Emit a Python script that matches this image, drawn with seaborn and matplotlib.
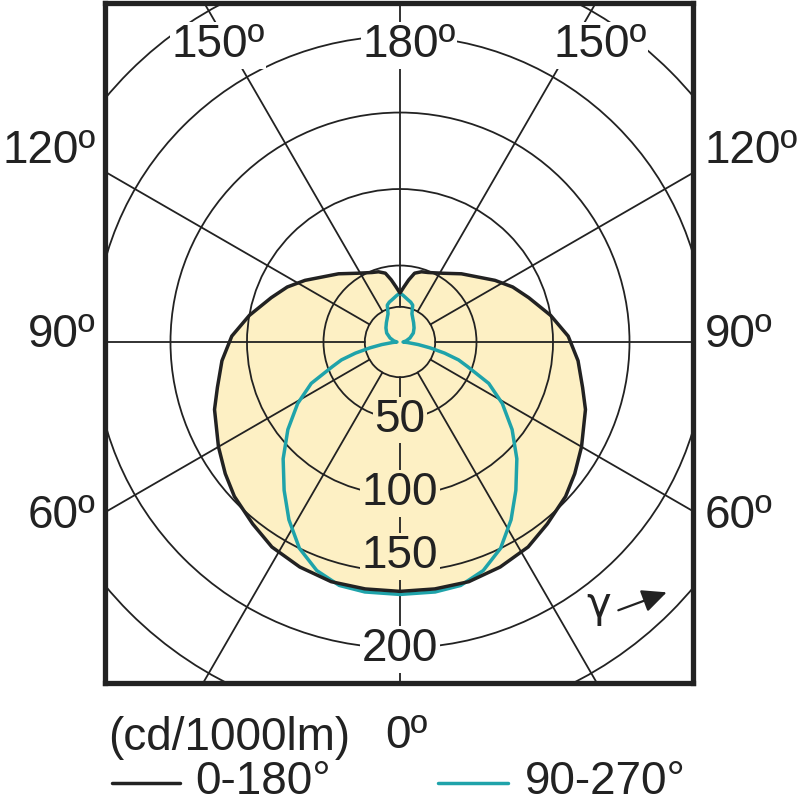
"""
Polar luminous intensity diagram (cd/1000lm), two C-planes.
"""

import numpy as np
import seaborn as sns
import matplotlib.pyplot as plt
from matplotlib.patches import Circle
from matplotlib.lines import Line2D

# C0-180 plane (black, filled) - gamma in degrees, 0 = straight down
black_gamma = [0, 8, 16, 24, 32, 39, 47, 53, 60, 70, 76, 84, 92, 100, 109, 116, 123,
               138, 148, 158, 163, 168, 172, 176, 180]
black_cd = [163, 163, 163, 161, 158, 153, 148, 143, 137, 129, 123, 117, 110, 100, 89, 82, 74,
            60, 53, 49, 48, 46, 41, 36, 32]

# C90-270 plane (teal)
teal_gamma = [0, 8, 14, 20, 26, 32, 38, 45, 52, 59, 65, 70, 73, 76, 79, 82, 86, 90,
              100, 112, 124, 135, 145, 150, 157, 161, 165, 169, 176, 180]
teal_cd = [165, 165, 164, 159, 150, 137, 123, 108, 93, 78, 64, 47, 40, 30, 20, 12, 5, 2,
           4, 7, 10.5, 13, 15.5, 17, 20, 25.5, 27, 28, 30.5, 32]

ring_values = [23, 50, 100, 150, 200, 250]
ring_labels = ['50', '100', '150', '200']
ring_label_pos = [-51, -99, -140, -201]
spoke_angles = list(range(0, 360, 30))

angle_top_labels = ['150º', '180º', '150º']
angle_top_x = [-119, 6, 131]
angle_side_labels = ['120º', '90º', '60º']
angle_side_y = [125, 4.6, -114]

FILL = '#fdf0c4'
TEAL = '#1fa3aa'
INK = '#222222'


def to_xy(gamma, cd):
    """Mirror a half-plane curve to both sides; gamma 0 points down."""
    g = np.radians(np.asarray(gamma, dtype=float))
    r = np.asarray(cd, dtype=float)
    x_right = r * np.sin(g)
    y_right = -r * np.cos(g)
    x = np.concatenate([x_right, -x_right[::-1]])
    y = np.concatenate([y_right, y_right[::-1]])
    return x, y


sns.set_style('white')
plt.rcParams['font.family'] = ['Liberation Sans', 'DejaVu Sans']

fig = plt.figure(figsize=(8, 8.1), dpi=100)
ax = fig.add_axes([105 / 800, 1 - 683 / 810, 588 / 800, 680 / 810])
ax.set_xlim(-192.8, 191.5)
ax.set_ylim(-222.9, 221.6)
ax.set_xticks([])
ax.set_yticks([])
for sp in ax.spines.values():
    sp.set_linewidth(3.8)
    sp.set_color(INK)
    sp.set_zorder(10)

# filled C0-180 distribution
bx, by = to_xy(black_gamma, black_cd)
ax.fill(bx, by, color=FILL, zorder=1, lw=0)

# grid: rings and spokes
for r in ring_values:
    ax.add_patch(Circle((0, 0), r, fill=False, ec=INK, lw=1.3, zorder=2))
for a in spoke_angles:
    t = np.radians(a)
    ax.plot([23 * np.sin(t), 400 * np.sin(t)], [-23 * np.cos(t), -400 * np.cos(t)],
            color=INK, lw=1.3, zorder=2)

# curves
tx, ty = to_xy(teal_gamma, teal_cd)
sns.lineplot(x=tx, y=ty, sort=False, estimator=None, color=TEAL, lw=2.5, ax=ax, zorder=4)
sns.lineplot(x=bx, y=by, sort=False, estimator=None, color=INK, lw=2.5, ax=ax, zorder=5)

fs = 33
for lab, yp in zip(ring_labels, ring_label_pos):
    bg = FILL if lab != '200' else 'white'
    ax.text(0, yp, lab, ha='center', va='center', fontsize=fs, color=INK, zorder=6,
            bbox=dict(facecolor=bg, edgecolor='none', pad=1))

for lab, xp in zip(angle_top_labels, angle_top_x):
    ax.text(xp, 194, lab, ha='center', va='center', fontsize=fs, color=INK, zorder=6,
            bbox=dict(facecolor='white', edgecolor='none', pad=1))

for lab, yp in zip(angle_side_labels, angle_side_y):
    ax.text(-199, yp, lab, ha='right', va='center', fontsize=fs, color=INK, clip_on=False)
    ax.text(199, yp, lab, ha='left', va='center', fontsize=fs, color=INK, clip_on=False)

# gamma direction marker
ax.text(130, -172, 'γ', ha='center', va='center', fontsize=30, color=INK, zorder=6,
        family=['DejaVu Sans'])
ax.annotate('', xy=(176, -163), xytext=(141, -176),
            arrowprops=dict(arrowstyle='-|>,head_length=1.5,head_width=0.7',
                            color=INK, lw=1.6), zorder=6)

# unit and legend below the box
fig.text(108 / 800, 1 - 738 / 810, '(cd/1000lm)', ha='left', va='center', fontsize=fs, color=INK)
fig.text(385 / 800, 1 - 736 / 810, '0º', ha='left', va='center', fontsize=fs, color=INK)

ly = 1 - 783 / 810
fig.add_artist(Line2D([112 / 800, 180 / 800], [ly, ly], color=INK, lw=2.5))
fig.text(195 / 800, 1 - 782 / 810, '0-180°', ha='left', va='center', fontsize=fs, color=INK)
fig.add_artist(Line2D([438 / 800, 508 / 800], [ly, ly], color=TEAL, lw=2.5))
fig.text(525 / 800, 1 - 782 / 810, '90-270°', ha='left', va='center', fontsize=fs, color=INK)

fig.savefig('out.png', dpi=100)
